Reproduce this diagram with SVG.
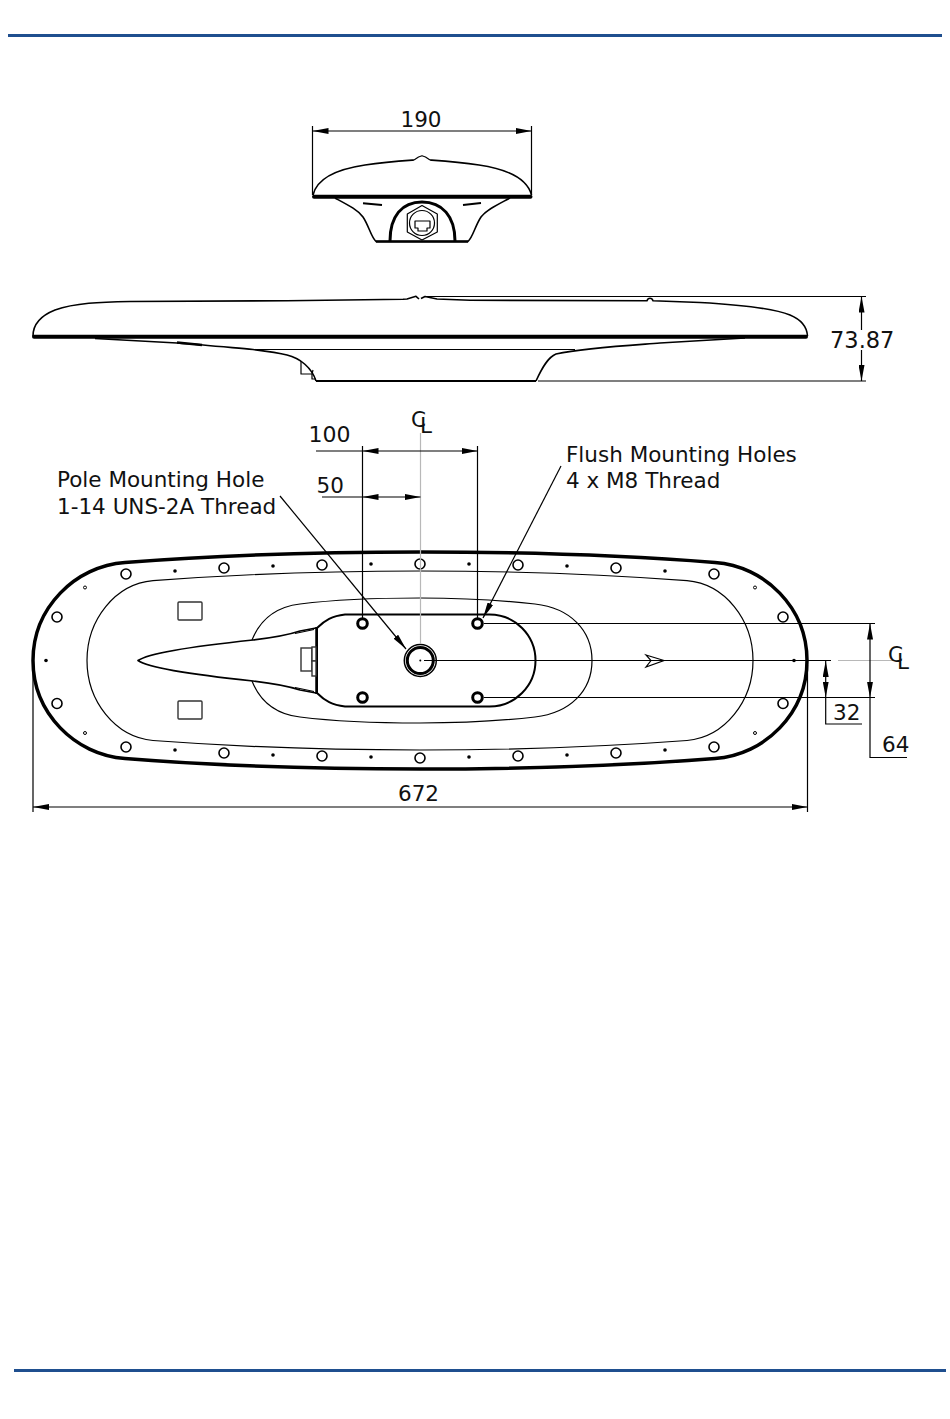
<svg xmlns="http://www.w3.org/2000/svg" width="950" height="1419" viewBox="0 0 950 1419">
<style>
text{font-family:"DejaVu Sans",sans-serif;font-size:21.5px;fill:#111}
.l{fill:none;stroke:#000;stroke-width:1.2;stroke-linejoin:round}
.m{fill:none;stroke:#000;stroke-width:1.6;stroke-linejoin:round}
.k{fill:none;stroke:#000;stroke-width:2.5;stroke-linejoin:round}
.g{fill:none;stroke:#b8b8b8;stroke-width:1.2}
.d{fill:none;stroke:#000;stroke-width:1.2}
.a{fill:none;stroke:#000;stroke-width:1.2;marker-end:url(#ar)}
.b{fill:none;stroke:#000;stroke-width:1.2;marker-start:url(#ar);marker-end:url(#ar)}
.r{fill:#fff;stroke:#000;stroke-width:1.6}
.t{fill:#fff;stroke:#000;stroke-width:1}
.s{fill:#000}
.bar{stroke:#1f4f8f;stroke-width:3;fill:none}
</style>
<defs>
<marker id="ar" markerUnits="userSpaceOnUse" markerWidth="17" markerHeight="6" refX="16" refY="3" orient="auto-start-reverse"><path d="M0 0L16 3L0 6Z" fill="#000"/></marker>
</defs>
<rect width="950" height="1419" fill="#fff"/>
<g id="page-rules">
<path class="bar" d="M8 35.500H942"/>
<path class="bar" d="M14 1370.500H946"/>
</g>
<g id="end-view">
<path class="m" d="M313 195C317 178 338 169 365 165C385 162 400 161 414 160M430 160C444 161 459 162 479 165C506 169 527 178 531.500 195"/>
<path class="l" d="M414 160L418.500 157L422 155.800L425.500 157L430 160"/>
<path d="M314 196.800H530.500" fill="none" stroke="#000" stroke-width="4" stroke-linecap="round"/>
<path class="m" d="M335 198C348 205 358 210 363 217C369 226 371 237 376 241.500H468C473 237 475 226 481 217C486 210 497 205 510 198"/>
<path d="M376 241.500H468" class="k"/>
<path d="M363 203.200L382 205M463 205L481 203" fill="none" stroke="#000" stroke-width="2"/>
<path d="M390 241C390 216 402 202 422 202C442 202 455 216 455 241" fill="none" stroke="#000" stroke-width="3"/>
<path class="l" d="M422 205.500L437.300 214V232L422 240L407.300 232V214Z"/>
<circle class="l" cx="422" cy="223" r="12.500"/>
<path class="l" d="M415 221H430V228H427V231H418V228H415Z"/>
</g>
<g id="side-view">
<path class="m" d="M33 336C33 325 40 316 55 310C75 303 100 302 130 301.500L287 300.700L403 299.300L407 299L416 296.300L419 299M421 298.500L425 296.500L437 299L470 300.300L647 300.700C648 297.500 652 297.500 653 300.700L700 302.500C745 305 775 309 790 315C802 320 807 328 807.500 336"/>
<path d="M34 336.800H806" fill="none" stroke="#000" stroke-width="4" stroke-linecap="round"/>
<path class="m" d="M95 338.500L177 343C205 345 230 347.500 253 349.500C265 351 277 352.500 287 355C300 358 312 368 316 381"/>
<path class="m" d="M536 381C542 368 548 357 556 354C585 348 620 346 660 343L745 338"/>
<path d="M316 381H536" fill="none" stroke="#000" stroke-width="2"/>
<path class="l" d="M253 349.500H575"/>
<path d="M177 342.500L202 345" fill="none" stroke="#000" stroke-width="2.500"/>
<path class="l" d="M301 361V374H312V379H316"/>
<path class="l" d="M312 374L313 370"/>
</g>
<g id="underside-view">
<path d="M125 562.500C220 555 320 552 420 552C520 552 620 555 715 562.500C765 566 807 608 807 660.500C807 713 765 755 715 758.500C620 766 520 769 420 769C320 769 220 766 125 758.500C75 755 33 713 33 660.500C33 608 75 566 125 562.500Z" fill="none" stroke="#000" stroke-width="3.500"/>
<path class="l" d="M153 580.700C240 574 330 571 420 571C510 571 600 574 687 580.700C725 584 753 620 753 660.500C753 701 725 737 687 740.500C600 747 510 750 420 750C330 750 240 747 153 740.500C115 737 87 701 87 660.500C87 620 115 584 153 580.700Z"/>
<path class="l" d="M252 640C260 620 275 607 300 604C340 599 380 598 420 598C460 598 500 600 535 604C570 608 592 630 592 660.500C592 691 570 713 535 717C500 721 460 723 420 723C380 723 340 722 300 717C275 714 260 701 252 681"/>
<path d="M316 628L300 631C285 636 270 638 253 640C215 644 150 652 138 660.500C150 669 215 677 253 681C270 683 285 685 300 690L316 693" class="m" fill="#fff"/>
<path class="l" d="M295 633.500L314 629.500M295 687.500L314 691.500"/>
<path d="M345 614.500H489.500A46 46 0 0 1 489.500 706.500H345C332 705 325 701 317 693V628C325 620 332 616 345 614.500Z" fill="#fff" stroke="#000" stroke-width="2"/>
<path d="M316.500 627V694" fill="none" stroke="#000" stroke-width="2.500"/>
<g fill="#fff" stroke="#333" stroke-width="1.400">
<rect x="301" y="648" width="11" height="23"/>
<rect x="312" y="647" width="4" height="14"/>
<rect x="312" y="661" width="4" height="15"/>
<rect x="178" y="602" width="24" height="18" rx="1"/>
<rect x="178" y="701" width="24" height="18" rx="1"/>
</g>
<g id="outer-holes">
<circle class="r" cx="126" cy="574" r="5"/><circle class="r" cx="224" cy="568" r="5"/><circle class="r" cx="322" cy="565" r="5"/><circle class="r" cx="420" cy="564" r="5"/><circle class="r" cx="518" cy="565" r="5"/><circle class="r" cx="616" cy="568" r="5"/><circle class="r" cx="714" cy="574" r="5"/>
<circle class="r" cx="126" cy="747" r="5"/><circle class="r" cx="224" cy="753" r="5"/><circle class="r" cx="322" cy="756" r="5"/><circle class="r" cx="420" cy="758" r="5"/><circle class="r" cx="518" cy="756" r="5"/><circle class="r" cx="616" cy="753" r="5"/><circle class="r" cx="714" cy="747" r="5"/>
<circle class="r" cx="57" cy="617" r="5"/><circle class="r" cx="57" cy="703.500" r="5"/><circle class="r" cx="783" cy="617" r="5"/><circle class="r" cx="783" cy="703.500" r="5"/>
<circle class="s" cx="175" cy="571" r="1.800"/><circle class="s" cx="273" cy="566" r="1.800"/><circle class="s" cx="371" cy="564" r="1.800"/><circle class="s" cx="469" cy="564" r="1.800"/><circle class="s" cx="567" cy="566" r="1.800"/><circle class="s" cx="665" cy="571" r="1.800"/>
<circle class="s" cx="175" cy="750" r="1.800"/><circle class="s" cx="273" cy="755" r="1.800"/><circle class="s" cx="371" cy="757" r="1.800"/><circle class="s" cx="469" cy="757" r="1.800"/><circle class="s" cx="567" cy="755" r="1.800"/><circle class="s" cx="665" cy="750" r="1.800"/>
<circle class="s" cx="46" cy="660.500" r="1.800"/><circle class="s" cx="794" cy="660.500" r="1.800"/>
<circle class="t" cx="85" cy="587.500" r="1.500"/><circle class="t" cx="85" cy="733" r="1.500"/><circle class="t" cx="755" cy="587.500" r="1.500"/><circle class="t" cx="755" cy="733" r="1.500"/>
</g>
<g id="mount-holes" fill="#fff" stroke="#000" stroke-width="3">
<circle cx="362.500" cy="623.500" r="4.800"/><circle cx="477.500" cy="623.500" r="4.800"/><circle cx="362.500" cy="697.500" r="4.800"/><circle cx="477.500" cy="697.500" r="4.800"/>
</g>
<g id="pole-hole">
<circle cx="420.300" cy="660.500" r="16" fill="#fff" stroke="#000" stroke-width="1.500"/>
<circle cx="420.300" cy="660.500" r="13" fill="#fff" stroke="#000" stroke-width="3"/>
<circle class="s" cx="420.300" cy="660.500" r="1"/>
</g>
<path id="direction-arrow" d="M646 655L664 660.500L646 667L651 660.500Z" fill="#fff" stroke="#000" stroke-width="1.200"/>
</g>
<g id="connectors">
<path class="g" d="M420.500 433V644M838 660.500H893"/>
<path class="d" d="M424 660.500H831"/>
<path class="b" d="M312.500 131H531.500"/>
<path class="d" d="M312.500 126V195M531.500 126V195"/>
<path class="d" d="M425 296.500H866M538 381H866"/>
<path class="a" d="M861.500 330V296.500"/>
<path class="a" d="M861.500 350V381"/>
<path class="d" d="M316 451H362.500M322 497H362.500"/>
<path class="b" d="M362.500 451H477.500"/>
<path class="b" d="M362.500 497H420.500"/>
<path class="d" d="M362.500 446V618M477.500 446V618"/>
<path class="a" d="M280 496L406 649"/>
<path class="a" d="M561 466L483 618"/>
<path class="d" d="M484 623.500H875M484 697.500H875"/>
<path class="b" d="M870 623.500V697.500"/>
<path class="d" d="M870 697.500V757.500H907"/>
<path class="b" d="M825.700 661V697.500"/>
<path class="d" d="M825.700 697.500V724H862"/>
<path class="d" d="M33 670V812M807.500 665V812"/>
<path class="b" d="M33 807H807.500"/>
</g>
<g id="labels">
<text x="400.500" y="127">190</text>
<text x="830" y="348" style="font-size:22.500px">73.87</text>
<text x="308.500" y="441.500" style="font-size:22px">100</text>
<text x="316.500" y="493">50</text>
<text x="411" y="427">C</text><text x="420" y="433">L</text>
<text x="57" y="487">Pole Mounting Hole</text>
<text x="57" y="513.500">1-14 UNS-2A Thread</text>
<text x="566" y="462">Flush Mounting Holes</text>
<text x="566" y="488">4 x M8 Thread</text>
<text x="888" y="662">C</text><text x="897" y="668.500">L</text>
<text x="833" y="720">32</text>
<text x="882" y="752">64</text>
<text x="398" y="801">672</text>
</g>
</svg>
